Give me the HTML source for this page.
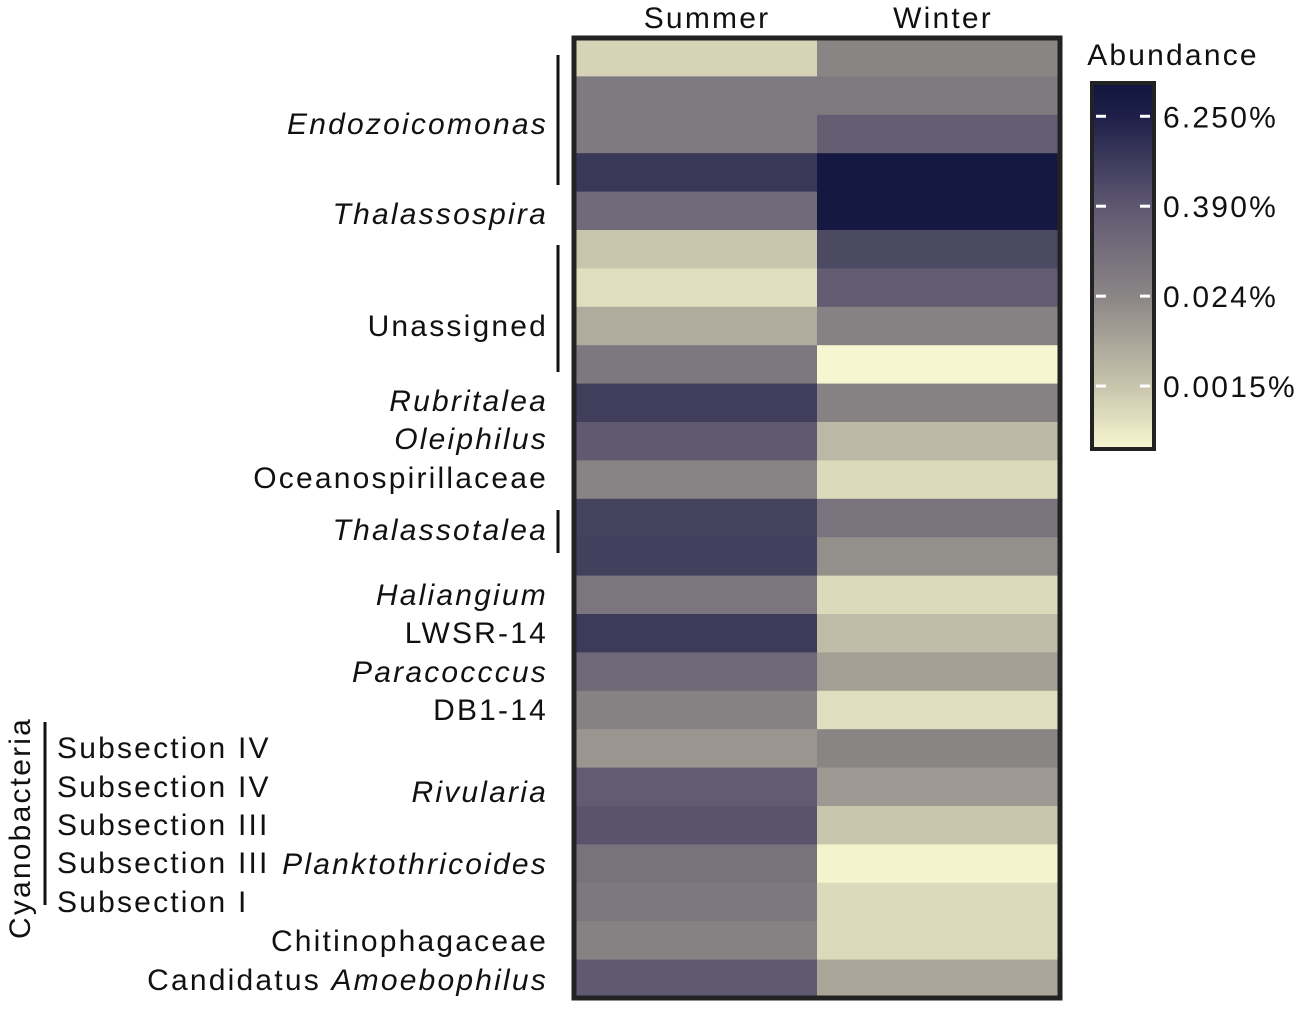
<!DOCTYPE html>
<html><head><meta charset="utf-8"><style>
body{margin:0;background:#fff;font-family:"Liberation Sans",sans-serif;}
svg text{font-family:"Liberation Sans",sans-serif;fill:#111;letter-spacing:2.2px;}
</style></head><body>
<svg id="chart" width="1299" height="1004">
<defs>
<linearGradient id="cbgrad" x1="0" y1="1" x2="0" y2="0">
<stop offset="0" stop-color="#f8f6d0"/>
<stop offset="0.17" stop-color="#c8c5ad"/>
<stop offset="0.42" stop-color="#8a8585"/>
<stop offset="0.66" stop-color="#5f5872"/>
<stop offset="0.91" stop-color="#1e1f48"/>
<stop offset="1" stop-color="#10153e"/>
</linearGradient>
</defs>
<g id="cells"></g>
<rect x="574" y="38" width="486" height="960" fill="none" stroke="#222" stroke-width="5"/>
<text x="707" y="28" font-size="30" text-anchor="middle">Summer</text>
<text x="943" y="28" font-size="30" text-anchor="middle">Winter</text>
<g id="labels" font-size="30" text-anchor="end"></g>
<g stroke="#111" stroke-width="3">
<line x1="558" y1="55" x2="558" y2="185"/>
<line x1="558" y1="245" x2="558" y2="372"/>
<line x1="558" y1="510" x2="558" y2="553"/>
<line x1="45" y1="722" x2="45" y2="905"/>
</g>
<text transform="translate(30,828) rotate(-90)" font-size="30" text-anchor="middle">Cyanobacteria</text>
<g font-size="30">
<text x="57" y="758">Subsection IV</text>
<text x="57" y="797">Subsection IV</text>
<text x="57" y="835">Subsection III</text>
<text x="57" y="873">Subsection III</text>
<text x="57" y="912">Subsection I</text>
</g>
<text x="1173" y="65" font-size="30" text-anchor="middle">Abundance</text>
<rect x="1092" y="83" width="62" height="366" fill="url(#cbgrad)" stroke="#222" stroke-width="4"/>
<g id="cbticks" font-size="30"></g>
</svg>
<script>
const columns = ["Summer","Winter"];
const rowNames = ["Endozoicomonas 1","Endozoicomonas 2","Endozoicomonas 3","Thalassospira 1","Thalassospira 2","Unassigned 1","Unassigned 2","Unassigned 3","Unassigned 4","Rubritalea","Oleiphilus","Oceanospirillaceae","Thalassotalea 1","Thalassotalea 2","Haliangium","LWSR-14","Paracocccus","DB1-14","Subsection IV","Rivularia","Subsection III","Planktothricoides","Subsection I","Chitinophagaceae","Candidatus Amoebophilus"];
// values: log16(abundance% / 0.0015)
const summerValues = [-0.2,1.25,1.25,2.6,1.6,0,-0.35,0.4,1.3,2.5,2.0,1.05,2.4,2.45,1.35,2.55,1.65,1.1,0.75,1.95,2.1,1.45,1.3,1.1,2.0];
const winterValues = [1.0,1.25,1.9,3.25,3.25,2.3,1.95,1.1,-0.7,1.1,0.2,-0.3,1.4,0.85,-0.3,0.15,0.6,-0.35,1.0,0.7,0.0,-0.65,-0.3,-0.3,0.5];
const tickLabels = ["0.0015%","0.024%","0.390%","6.250%"];
const tickValues = [0,1,2,3];
const vMin=-0.7, vMax=3.37;
const stops=[[-0.7,[248,246,208]],[0,[200,197,173]],[1,[138,133,133]],[2,[95,90,112]],[3,[32,33,70]],[3.37,[16,21,62]]];
function color(v){
  v=Math.max(vMin,Math.min(vMax,v));
  for(let i=0;i<stops.length-1;i++){const a=stops[i],b=stops[i+1];
    if(v<=b[0]){const t=(v-a[0])/(b[0]-a[0]);return 'rgb('+a[1].map((c,k)=>Math.round(c+(b[1][k]-c)*t)).join(',')+')';}}
  return 'rgb(16,21,62)';
}
const x0=574,colW=243,y0=38,rowH=960/rowNames.length;
const xCol=i=>x0+i*colW, yRow=i=>y0+i*rowH;
const ns="http://www.w3.org/2000/svg";
const cells=document.getElementById('cells');
[summerValues,winterValues].forEach((vals,c)=>{
  vals.forEach((v,r)=>{
    const el=document.createElementNS(ns,'rect');
    el.setAttribute('x',xCol(c));el.setAttribute('y',yRow(r));
    el.setAttribute('width',colW);el.setAttribute('height',rowH+0.5);
    el.setAttribute('fill',color(v));
    
    
    cells.appendChild(el);
  });
});
const labels=[["Endozoicomonas",123,true],["Thalassospira",213,true],["Unassigned",325,false],["Rubritalea",400,true],["Oleiphilus",438,true],["Oceanospirillaceae",477,false],["Thalassotalea",529,true],["Haliangium",594,true],["LWSR-14",632,false],["Paracocccus",671,true],["DB1-14",709,false],["Rivularia",791,true],["Planktothricoides",863,true],["Chitinophagaceae",940,false]];
const lg=document.getElementById('labels');
labels.forEach(l=>{
  const t=document.createElementNS(ns,'text');
  t.setAttribute('x',548);t.setAttribute('y',l[1]+11);
  if(l[2])t.setAttribute('font-style','italic');
  t.textContent=l[0];
  
  
  lg.appendChild(t);
});
const ca=document.createElementNS(ns,'text');
ca.setAttribute('x',548);ca.setAttribute('y',990);
ca.innerHTML='Candidatus <tspan font-style="italic">Amoebophilus</tspan>';


lg.appendChild(ca);
const cbTop=83,cbBot=449;
const cbY=v=>cbBot-(v-vMin)/(vMax-vMin)*(cbBot-cbTop);
const tg=document.getElementById('cbticks');
tickValues.forEach((v,i)=>{
  const y=cbY(v);
  [[1096,1106],[1140,1150]].forEach(p=>{
    const ln=document.createElementNS(ns,'line');
    ln.setAttribute('x1',p[0]);ln.setAttribute('x2',p[1]);ln.setAttribute('y1',y);ln.setAttribute('y2',y);
    ln.setAttribute('stroke','#fff');ln.setAttribute('stroke-width','3');
    
    
    tg.appendChild(ln);
  });
  const t=document.createElementNS(ns,'text');
  t.setAttribute('x',1163);t.setAttribute('y',y+11);
  t.textContent=tickLabels[i];
  
  
  tg.appendChild(t);
});
</script>
</body></html>
